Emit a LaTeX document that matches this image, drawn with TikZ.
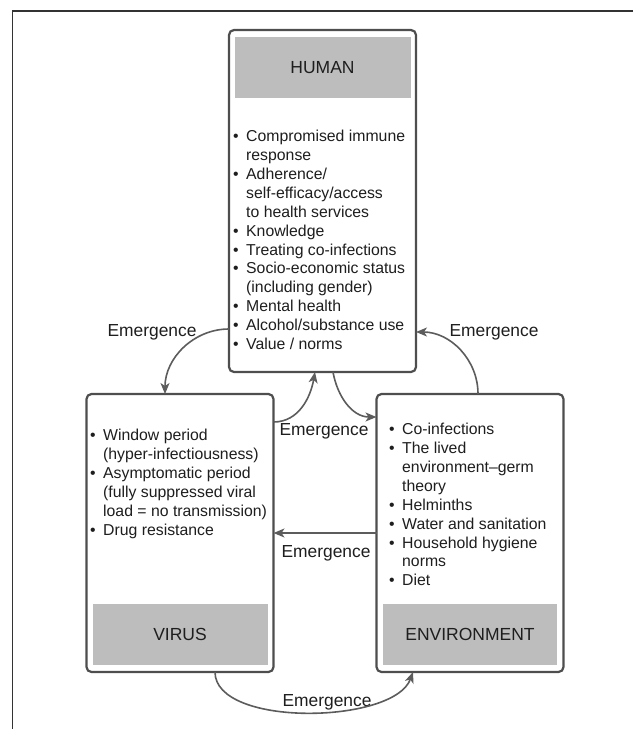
\documentclass[tikz,border=0pt]{standalone}
\usepackage{fontspec}
\setmainfont{Liberation Sans}
\usetikzlibrary{arrows.meta}
\definecolor{boxline}{HTML}{4E4E4E}
\definecolor{headgray}{HTML}{BDBDBD}
\definecolor{arrowgray}{HTML}{5C5C5C}
\definecolor{textdark}{HTML}{1E1E1E}
\newcommand{\bul}{\makebox[13pt][l]{\textbullet}}
\newcommand{\ind}{\hspace*{13pt}}

\begin{document}
\begin{tikzpicture}[x=1pt, y=-1pt,
box/.style={draw=boxline, line width=2.2pt, rounded corners=5pt, fill=white, minimum width=187pt, inner sep=0pt, outer sep=0pt},
head/.style={fill=headgray, minimum width=176pt, minimum height=61pt, inner sep=0pt, text=textdark, font=\fontsize{17.5}{20}\selectfont},
items/.style={align=left, anchor=north west, inner sep=0pt, text=textdark, font=\fontsize{15.8}{18.9}\selectfont},
emerge/.style={draw=arrowgray, line width=1.6pt, -{Stealth[length=11pt,width=9pt,inset=3pt]}}]
\tikzstyle{lbl}=[inner sep=0pt, text=textdark, font=\fontsize{17.4}{20}\selectfont]
\useasboundingbox (0,0) rectangle (633,729);

%Frame
\draw[line width=1.2pt, draw=black!80] (633,11) -- (12.5,11) -- (12.5,729);

%Human
\node[box, minimum height=342pt] (human) at (322.5,201) {};
\node[head] (humanhd) at (322.5,67.5) {HUMAN};
\node[items] (humanlist) at (233,130) {\bul Compromised immune\\ \ind response\\ \bul Adherence/\\ \ind self-efficacy/access\\ \ind to health services\\ \bul Knowledge\\ \bul Treating co-infections\\ \bul Socio-economic status\\ \ind (including gender)\\ \bul Mental health\\ \bul Alcohol/substance use\\ \bul Value / norms};

%Virus
\node[box, minimum height=278pt] (virus) at (180,533) {};
\node[head, minimum width=175pt] (virushd) at (180,634) {VIRUS};
\node[items] (viruslist) at (90,429) {\bul Window period\\ \ind (hyper-infectiousness)\\ \bul Asymptomatic period\\ \ind (fully suppressed viral\\ \ind load = no transmission)\\ \bul Drug resistance};

%Environment
\node[box, minimum height=278pt] (env) at (470,533) {};
\node[head, minimum width=174pt] (envhd) at (470,634) {ENVIRONMENT};
\node[items] (envlist) at (389,423) {\bul Co-infections\\ \bul The lived\\ \ind environment–germ\\ \ind theory\\ \bul Helminths\\ \bul Water and sanitation\\ \bul Household hygiene\\ \ind norms\\ \bul Diet};

%Emergence
\node[lbl] (lblhv) at (152,332) {Emergence};
\node[lbl] (lbleh) at (494,332) {Emergence};
\node[lbl] (lblmid) at (324,431) {Emergence};
\node[lbl] (lblev) at (326,553) {Emergence};
\node[lbl] (lblve) at (327,702) {Emergence};

\draw[emerge] ([yshift=-128pt]human.west) to[out=180,in=90] ([xshift=-15pt]virus.north);
\draw[emerge] ([xshift=8pt]env.north) to[out=90,in=0] ([yshift=-131pt]human.east);
\draw[emerge] ([yshift=-28pt]virus.north east) to[out=0,in=-100] ([xshift=-7.5pt]human.south);
\draw[emerge] ([xshift=10.5pt]human.south) to[out=-80,in=180] ([yshift=-23pt]env.north west);
\draw[emerge] (env.west) -- (virus.east);
\draw[emerge] ([xshift=35pt]virus.south) to[out=-90,in=-110,looseness=0.72] ([xshift=-57pt]env.south);
\end{tikzpicture}
\end{document}
